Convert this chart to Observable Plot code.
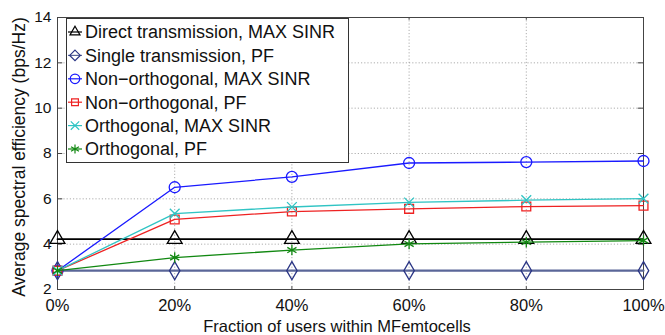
<!DOCTYPE html>
<html><head><meta charset="utf-8">
<script src="https://cdn.jsdelivr.net/npm/d3@7"></script>
<script src="https://cdn.jsdelivr.net/npm/@observablehq/plot@0.6"></script>
<style>
body{margin:0;background:#fff;font-family:"Liberation Sans",Arial,sans-serif;}
#wrap{position:relative;width:665px;height:335px;}
#legend{position:absolute;left:66px;top:18px;}
</style></head>
<body><div id="wrap"><div id="chart"></div><div id="legend"></div></div>
<script>
const fractions = [0, 20, 40, 60, 80, 100];
const directMaxSinr = [4.22, 4.22, 4.22, 4.22, 4.22, 4.22];
const singlePF = [2.83, 2.83, 2.83, 2.83, 2.83, 2.83];
const nonOrthMaxSinr = [2.83, 6.51, 6.97, 7.58, 7.62, 7.67];
const nonOrthPF = [2.83, 5.09, 5.44, 5.56, 5.66, 5.70];
const orthMaxSinr = [2.83, 5.35, 5.64, 5.84, 5.94, 6.01];
const orthPF = [2.83, 3.41, 3.74, 4.01, 4.09, 4.16];
const yTicks = [2, 4, 6, 8, 10, 12, 14];
const xTicks = [0, 20, 40, 60, 80, 100];

const seriesDefs = [
  {name: "Direct transmission, MAX SINR", values: directMaxSinr, color: "#000000", marker: "triangle", width: 1.8, r: 5.5},
  {name: "Single transmission, PF", values: singlePF, color: "#2a3585", line: "#5a6698", marker: "diamond", width: 2.2, r: 5.5},
  {name: "Non\u2212orthogonal, MAX SINR", values: nonOrthMaxSinr, color: "#1a1aff", marker: "circle", width: 1.3, r: 5.5},
  {name: "Non\u2212orthogonal, PF", values: nonOrthPF, color: "#ee2222", marker: "square", width: 1.3, r: 5},
  {name: "Orthogonal, MAX SINR", values: orthMaxSinr, color: "#30c4c4", marker: "times", width: 1.3, r: 4.5},
  {name: "Orthogonal, PF", values: orthPF, color: "#118811", marker: "asterisk", width: 1.3, r: 5}
];
const data = seriesDefs.flatMap(s => fractions.map((f, i) => ({series: s.name, x: f, y: s.values[i]})));

const marks = [
  Plot.gridX(xTicks, {stroke: "#999", strokeOpacity: 1, strokeDasharray: "1.2,2", strokeWidth: 0.8}),
  Plot.gridY(yTicks, {stroke: "#999", strokeOpacity: 1, strokeDasharray: "1.2,2", strokeWidth: 0.8}),
  // MATLAB-style inward ticks on all four sides
  Plot.ruleX(xTicks, {y1: 2, y2: 2.12, stroke: "#444"}),
  Plot.ruleX(xTicks, {y1: 14, y2: 13.88, stroke: "#444"}),
  Plot.ruleY(yTicks, {x1: 0, x2: 0.9, stroke: "#444"}),
  Plot.ruleY(yTicks, {x1: 100, x2: 99.1, stroke: "#444"}),
  Plot.frame({stroke: "#444", strokeWidth: 1})
];
for (const s of seriesDefs) {
  const d = data.filter(r => r.series === s.name);
  marks.push(Plot.line(d, {x: "x", y: "y", stroke: s.line || s.color, strokeWidth: s.width}));
  marks.push(Plot.dot(d, {x: "x", y: "y", stroke: s.color, symbol: () => s.marker, r: s.r, strokeWidth: 1.3, fill: "none"}));
}
marks.push(Plot.axisX(xTicks, {tickFormat: d => d + "%", tickSize: 0, tickPadding: 10, label: null, color: "#111"}));
marks.push(Plot.axisY(yTicks, {tickSize: 0, tickPadding: 6, label: null, color: "#111"}));

const chart = Plot.plot({
  width: 665, height: 335,
  marginLeft: 57, marginRight: 22, marginTop: 17, marginBottom: 46,
  style: {fontFamily: "'Liberation Sans', Arial, sans-serif", background: "#fff", overflow: "visible"},
  x: {domain: [0, 100]},
  y: {domain: [2, 14]},
  marks
});
document.getElementById("chart").appendChild(chart);

const svg = d3.select(chart);
svg.selectAll("[aria-label='x-axis tick label'] text").style("font-size", "16.5px");
svg.selectAll("[aria-label='y-axis tick label'] text").style("font-size", "15.5px");

// axis titles
svg.append("text").attr("x", 337).attr("y", 332).attr("text-anchor", "middle")
  .style("font-size", "16.5px").attr("fill", "#111").text("Fraction of users within MFemtocells");
svg.append("text").attr("transform", "translate(25,157) rotate(-90)").attr("text-anchor", "middle")
  .style("font-size", "17.5px").attr("fill", "#111").text("Average spectral efficiency (bps/Hz)");

// legend
const lg = d3.select("#legend").append("svg").attr("width", 283).attr("height", 145);
lg.append("rect").attr("x", 0.5).attr("y", 0.5).attr("width", 282).attr("height", 144)
  .attr("fill", "#fff").attr("stroke", "#333");
const symMap = {triangle: d3.symbolTriangle2, diamond: d3.symbolDiamond2, circle: d3.symbolCircle, square: d3.symbolSquare2, times: d3.symbolTimes, asterisk: d3.symbolAsterisk};
seriesDefs.forEach((s, i) => {
  const cy = 14 + i * 23.4;
  const g = lg.append("g").attr("transform", `translate(0,${cy})`);
  g.append("line").attr("x1", 2).attr("x2", 16).attr("stroke", s.line || s.color).attr("stroke-width", 1.2);
  g.append("path").attr("transform", "translate(9,0)").attr("d", d3.symbol(symMap[s.marker], Math.PI * s.r * s.r * 0.75)())
    .attr("fill", "none").attr("stroke", s.color).attr("stroke-width", 1.2);
  g.append("text").attr("x", 19).attr("dy", "0.36em").style("font-size", "18px").attr("fill", "#111").text(s.name);
});
</script></body></html>
